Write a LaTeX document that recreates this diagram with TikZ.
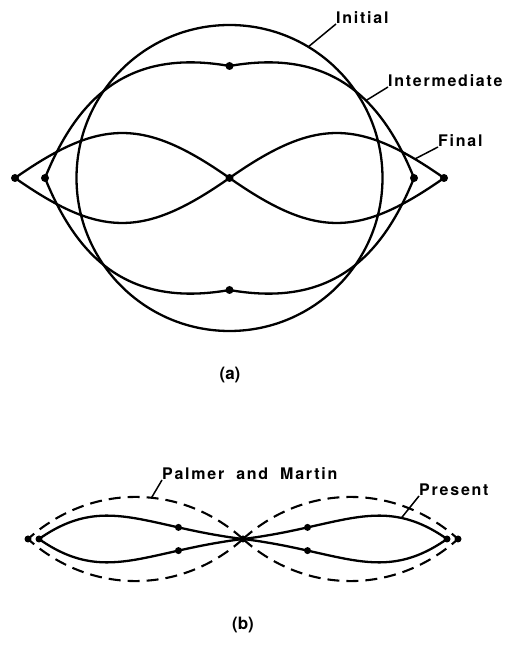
\documentclass[tikz,border=0pt]{standalone}
\usepackage{fontspec}
\setmainfont{TeX Gyre Heros}
\newfontfamily\lblfont[LetterSpace=11]{TeX Gyre Heros}

\begin{document}
\begin{tikzpicture}[x=1pt, y=1pt,
  curve/.style={line width=2.3pt},
  dashcurve/.style={line width=2.1pt, dash pattern=on 12pt off 7pt},
  leader/.style={line width=1.5pt},
  lbl/.style={font=\lblfont\bfseries\fontsize{16}{18}\selectfont, inner sep=0pt, anchor=base west}]

  \useasboundingbox (0,0) rectangle (509,659);

  % --- 1. (a) の基準点 ---
  \coordinate (A) at (229.5,481);
  \coordinate (IT) at (229.5,593);   % Intermediate 上端
  \coordinate (IB) at (229.5,369);   % Intermediate 下端
  \coordinate (IL) at (45,481);
  \coordinate (IR) at (414,481);
  \coordinate (FL) at (15,481);      % Final 左端
  \coordinate (FR) at (444,481);     % Final 右端

  % --- 2. Initial : 円 ---
  \draw[curve] (A) circle (153);
  \path (A) ++(59:153) coordinate (pInit);

  % --- 3. Intermediate : 上下に尖った形 ---
  \draw[curve] (IT) .. controls +(10:100) and +(112:90) .. (IR)
    coordinate[pos=0.62] (pInter)
    .. controls +(-112:90) and +(-10:100) .. (IB)
    .. controls +(190:100) and +(-68:90) .. (IL)
    .. controls +(68:90) and +(170:100) .. (IT);

  % --- 4. Final : 8 の字 ---
  \draw[curve] (FL) to[out=35, in=145, looseness=1.25] (A)
    to[out=-35, in=-145, looseness=1.25] (FR);
  \draw[curve] (FL) to[out=-35, in=-145, looseness=1.25] (A)
    to[out=35, in=145, looseness=1.25] coordinate[pos=0.88] (pFin) (FR);

  % --- 5. 点 ---
  \foreach \p in {A, IT, IB, IL, IR, FL, FR}
    \fill (\p) circle (4);

  % --- 6. ラベル ---
  \node[lbl] (lInit) at (336,635) {Initial};
  \node[lbl] (lInter) at (388,572) {Intermediate};
  \node[lbl] (lFin) at (438,512) {Final};
  \draw[leader] (pInit) -- (lInit.base west);
  \draw[leader] (pInter) -- (lInter.base west);
  \draw[leader] (pFin) -- (lFin.base west);

  \node[font=\bfseries\fontsize{17}{19}\selectfont] (capA) at (230,284) {(a)};

  % --- 7. (b) の基準点 ---
  \coordinate (B) at (243,120);
  \coordinate (SL) at (39,120);      % Present 左端
  \coordinate (SR) at (447,120);     % Present 右端
  \coordinate (DL) at (28,120);      % Palmer and Martin 左端
  \coordinate (DR) at (458,120);     % Palmer and Martin 右端

  % --- 8. Palmer and Martin : 破線 ---
  \draw[dashcurve] (B) to[out=138, in=42] coordinate[pos=0.43] (pPal) (DL);
  \draw[dashcurve] (B) to[out=-138, in=-42] (DL);
  \draw[dashcurve] (B) to[out=42, in=138] (DR);
  \draw[dashcurve] (B) to[out=-42, in=-138] (DR);

  % --- 9. Present : 実線 ---
  \draw[curve] (B) .. controls +(173:100) and +(35:80) .. (SL) coordinate[pos=0.25] (s1);
  \draw[curve] (B) .. controls +(187:100) and +(-35:80) .. (SL) coordinate[pos=0.25] (s2);
  \draw[curve] (B) .. controls +(7:100) and +(145:80) .. (SR) coordinate[pos=0.25] (s3)
    coordinate[pos=0.75] (pPres);
  \draw[curve] (B) .. controls +(-7:100) and +(-145:80) .. (SR) coordinate[pos=0.25] (s4);

  \foreach \p in {B, SL, SR, DL, DR, s1, s2, s3, s4}
    \fill (\p) circle (3.5);

  % --- 10. ラベル ---
  \node[lbl] (lPal) at (162,179) {Palmer\hspace{12pt}and\hspace{12pt}Martin};
  \node[lbl] (lPres) at (419,163) {Present};
  \draw[leader] (pPal) -- (lPal.base west);
  \draw[leader] (pPres) -- (lPres.base west);

  \node[font=\bfseries\fontsize{17}{19}\selectfont] (capB) at (243,34) {(b)};

\end{tikzpicture}
\end{document}
